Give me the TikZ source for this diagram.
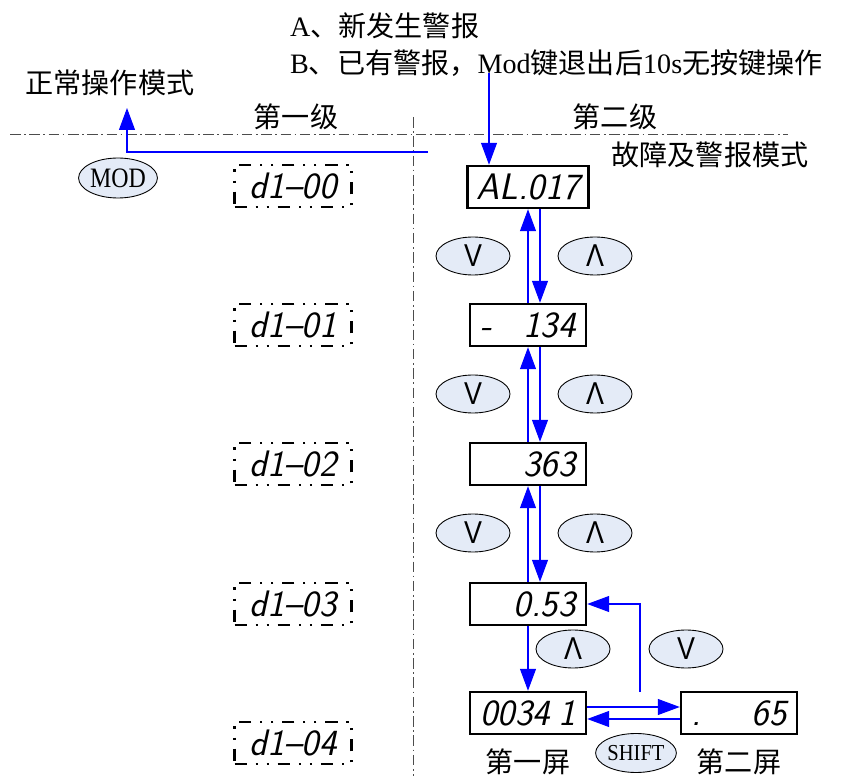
\documentclass[tikz,border=0pt]{standalone}
\usepackage{fontspec}
\setmainfont{Liberation Serif}
\newfontfamily\cjk{Noto Sans CJK SC}
\newfontfamily\keyfont{Liberation Sans}
\usepackage{graphicx}
\usepackage{xcolor}
\usepackage{tikz}
\usetikzlibrary{arrows.meta,positioning,calc,shapes.geometric}

\definecolor{keyfill}{RGB}{228,235,247}
\newcommand{\segtext}{\sffamily\itshape\fontsize{21}{21}\selectfont}
\newcommand{\vkey}{{\keyfont\fontsize{18}{18}\selectfont\scalebox{0.85}[1]{V}}}
\newcommand{\ukey}{{\keyfont\fontsize{18}{18}\selectfont\scalebox{0.85}[1]{Λ}}}

\begin{document}
\begin{tikzpicture}[
  x=0.02cm, y=-0.02cm,
  every node/.style={font=\fontsize{16}{19}\selectfont},
  flow/.style={-{Triangle[length=0.44cm,width=0.32cm]}, blue, line width=0.6pt},
  sepline/.style={black!70, line width=0.5pt, dash pattern=on 6pt off 2pt on 1pt off 2pt},
  segbox/.style={draw, line width=1.4pt, minimum width=2.32cm, minimum height=0.84cm, inner sep=2pt, font=\segtext},
  ghost/.style={draw, line width=1.3pt, dash pattern=on 7pt off 5pt on 1.3pt off 5pt on 1.3pt off 5pt, minimum width=2.34cm, minimum height=0.84cm, font=\segtext},
  key/.style={ellipse, draw, fill=keyfill, line width=0.5pt, minimum width=1.48cm, minimum height=0.76cm, inner sep=0pt},
]
\useasboundingbox (0,0) rectangle (842,776);

% --- header texts
\node[anchor=west] (alarmA) at (284,26) {A{\cjk 、新发生警报}};
\node[anchor=west] (alarmB) at (284,63) {B{\cjk 、已有警报，}Mod{\cjk 键退出后}10s{\cjk 无按键操作}};
\node (normal) at (110,83) {\cjk 正常操作模式};
\node (lvl1) at (296,117) {\cjk 第一级};
\node (lvl2) at (615,117) {\cjk 第二级};
\node (fault) at (710,155) {\cjk 故障及警报模式};

% separators
\draw[sepline] (10,134) -- (788,134);
\draw[sepline] (413,117) -- (413,776);

% --- MOD key back to normal mode
\node[key, minimum width=1.52cm, minimum height=0.8cm, font=\fontsize{16}{16}\selectfont] (mod) at (118,178) {\scalebox{0.85}[1]{MOD}};
\coordinate (modexit) at (428,152);
\coordinate (normalin) at (127,108);
\draw[flow] (modexit) -| (normalin);

% --- first level: d1-0x
\foreach \i/\y in {0/186,1/325,2/464,3/604,4/743}
  \node[ghost] (d\i) at (293,\y) {d1–0\i};

% --- second level: fault and alarm displays
\node[segbox, minimum width=2.42cm] (al) at (528,187) {AL.017};
\node[segbox] (v134) at (528,325) {\hbox to 1.9cm{-\hfill 134}};
\node[segbox] (v363) at (528,464) {\hbox to 1.9cm{\hfill 363}};
\node[segbox] (v053) at (528,604) {\hbox to 1.9cm{\hfill 0.53}};
\node[segbox] (v341) at (528,713) {\hbox to 1.9cm{0034\hfill 1}};
\node[segbox] (v65) at (739,713) {\hbox to 1.9cm{.\hfill 65}};

\coordinate (bsrc) at (489,73);
\draw[flow] (bsrc) -- (bsrc |- al.north);

% up / down between displays
\foreach \a/\b in {al/v134, v134/v363, v363/v053} {
  \draw[flow] (\b.north) -- (\a.south);
  \draw[flow] ([xshift=0.24cm]\a.south) -- ([xshift=0.24cm]\b.north);
}
\foreach \n/\y in {1/256,2/394,3/533} {
  \node[key] (dn\n) at (473,\y) {\vkey};
  \node[key] (up\n) at (595,\y) {\ukey};
}

% last display: two screens
\node[key] (up4) at (573,649) {\ukey};
\node[key] (dn4) at (686,649) {\vkey};
\draw[flow] (v053.south) -- (v341.north);
\coordinate (fb) at (640,692);
\draw[flow] (fb) |- (v053.east);
\draw[flow] ([yshift=0.12cm]v341.east) -- ([yshift=0.12cm]v65.west);
\draw[flow] ([yshift=-0.12cm]v65.west) -- ([yshift=-0.12cm]v341.east);
\node[key, font=\fontsize{13}{13}\selectfont, minimum width=1.52cm, minimum height=0.78cm] (shift) at (636,753) {\scalebox{0.9}[1]{SHIFT}};
\node (scr1) at (528,762) {\cjk 第一屏};
\node (scr2) at (739,762) {\cjk 第二屏};
\end{tikzpicture}
\end{document}
